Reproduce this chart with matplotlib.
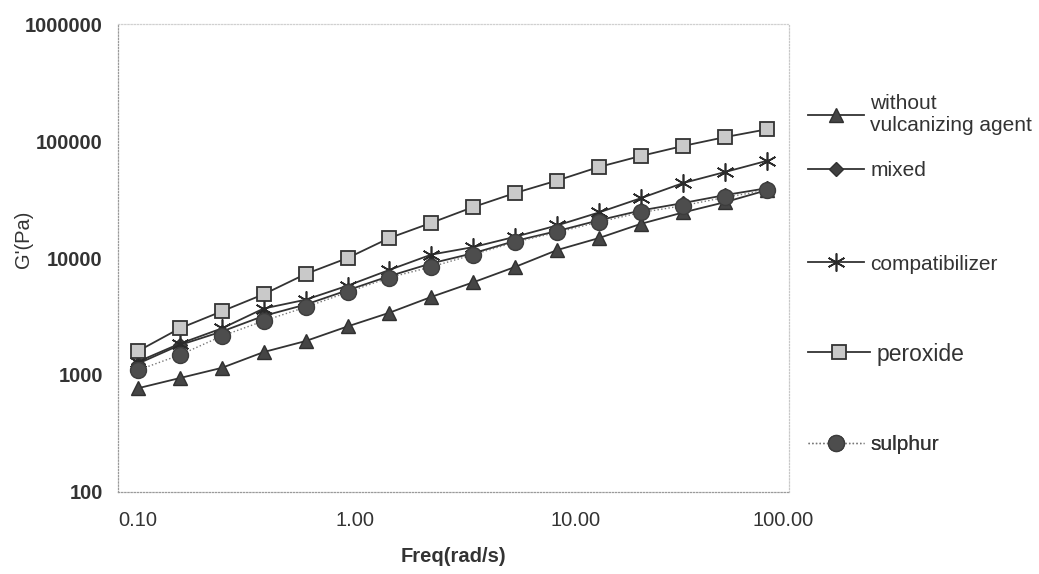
import matplotlib
matplotlib.use("Agg")
import matplotlib.pyplot as plt
import matplotlib.transforms as mtransforms

plt.rcParams['font.family'] = ['Liberation Sans', 'DejaVu Sans']

# frequency (rad/s) and G' (Pa)
freq = [0.1, 0.158, 0.251, 0.398, 0.631, 1.0, 1.58, 2.51, 3.98, 6.31,
        10.0, 15.8, 25.1, 39.8, 63.1, 100.0]
g_without = [770, 940, 1150, 1570, 1950, 2600, 3400, 4650, 6200, 8400,
             11700, 14800, 19600, 24500, 30000, 38000]
g_mixed = [1250, 1800, 2350, 3200, 4000, 5300, 7000, 9000, 11000, 14000,
           17000, 21000, 25500, 29500, 34500, 39500]
g_compat = [1300, 1850, 2500, 3700, 4400, 5800, 7900, 10700, 12400, 15200,
            19000, 24500, 32500, 43700, 54300, 67700]
g_peroxide = [1600, 2500, 3500, 4900, 7300, 10000, 14800, 20000, 27300, 36000,
              46000, 60000, 74600, 90700, 108000, 126000]
g_sulphur = [1100, 1480, 2150, 2900, 3800, 5100, 6800, 8400, 10700, 13700,
             16600, 20300, 24500, 28000, 33000, 38000]

labels = ['without\nvulcanizing agent', 'mixed', 'compatibilizer', 'peroxide', 'sulphur']
xticks = [0.1, 1, 10, 100]
xticklabels = ['0.10', '1.00', '10.00', '100.00']
yticks = [100, 1000, 10000, 100000, 1000000]

fig = plt.figure(figsize=(10.39, 5.74), dpi=100)
ax = fig.add_axes([0.1136, 0.143, 0.646, 0.815])

lc = '#333333'
h1, = ax.plot(freq, g_without, color=lc, lw=1.3, marker='^', ms=10,
              mfc='#454545', mec='#303030')
h2, = ax.plot(freq, g_mixed, color=lc, lw=1.3, marker='D', ms=7,
              mfc='#404040', mec='#303030')
h3, = ax.plot(freq, g_compat, color=lc, lw=1.3, marker=(6, 2, 0), ms=13,
              mec='#2a2a2a', mew=1.2)
h4, = ax.plot(freq, g_peroxide, color=lc, lw=1.3, marker='s', ms=10,
              mfc='#c9c9c9', mec='#333333', mew=1.3)
h5, = ax.plot(freq, g_sulphur, color='#777777', lw=1.0, ls=':', marker='o', ms=11.5,
              mfc='#4d4d4d', mec='#3d3d3d')

ax.set_xscale('log')
ax.set_yscale('log')
ax.set_xlim(0.0803, 128)
ax.set_ylim(100, 1000000)
ax.minorticks_off()
ax.set_xticks(xticks)
ax.set_xticklabels(xticklabels)
ax.set_yticks(yticks)
ax.set_yticklabels([str(v) for v in yticks])
ax.tick_params(axis='both', length=0, colors='#333333')
ax.tick_params(axis='x', labelsize=14.5, pad=14)
ax.tick_params(axis='y', labelsize=14.5, pad=11)
for t in ax.get_yticklabels():
    t.set_fontweight('bold')

# nudge x tick labels like the original
shifts = [0, 7, 18, 16]
for t, s in zip(ax.get_xticklabels(), shifts):
    t.set_transform(t.get_transform() + mtransforms.ScaledTranslation(s / 100, 0, fig.dpi_scale_trans))

for sp in ax.spines.values():
    sp.set_linestyle((0, (1, 1.5)))
    sp.set_color('#9a9a9a')
    sp.set_linewidth(0.9)
ax.spines['top'].set_color('#d0d0d0')
ax.spines['right'].set_color('#c8c8c8')

ax.set_xlabel('Freq(rad/s)', fontsize=14.5, fontweight='bold', color='#333333', labelpad=12)
ax.set_ylabel("G'(Pa)", fontsize=14.5, color='#333333')
ax.yaxis.set_label_coords(-0.127, 0.54)

# legend entries spread down the right side
handles = [h1, h2, h3, h4, h5]
ycent = [114.5, 171, 264, 354, 445]
sizes = [15, 15, 15, 16.5, 15]
for h, lab, yc, fs in zip(handles, labels, ycent, sizes):
    leg = ax.legend([h], [lab], loc='center left',
                    bbox_to_anchor=(808 / 1039, 1 - yc / 574),
                    bbox_transform=fig.transFigure, frameon=False,
                    fontsize=fs, handlelength=2.7, handletextpad=0.3,
                    borderpad=0, borderaxespad=0)
    for t in leg.get_texts():
        t.set_color('#333333')
    ax.add_artist(leg)

fig.savefig('out.png', dpi=100, facecolor='white')
